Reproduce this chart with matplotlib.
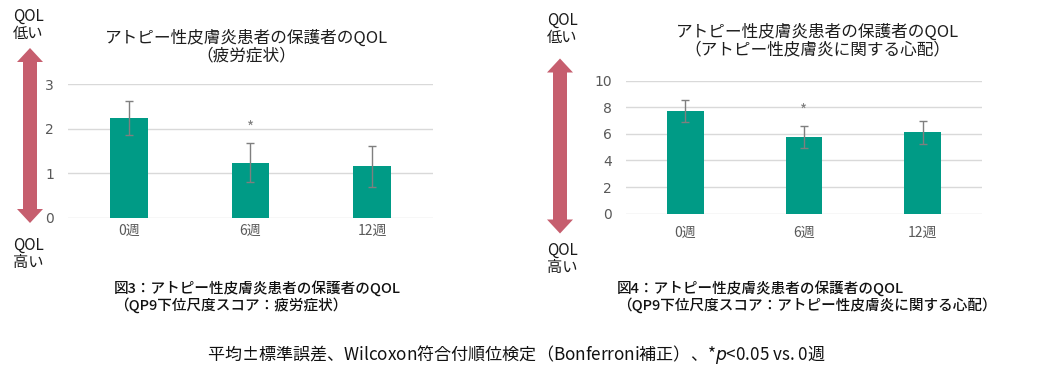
import matplotlib
matplotlib.use("Agg")
import matplotlib.pyplot as plt
from matplotlib.patches import Polygon
import numpy as np

plt.rcParams['font.family'] = ['Noto Sans CJK JP', 'DejaVu Sans']

categories = ["0週", "6週", "12週"]
fatigue_mean = [2.23, 1.24, 1.16]
fatigue_se = [0.38, 0.43, 0.46]
worry_mean = [7.72, 5.79, 6.12]
worry_se = [0.80, 0.83, 0.87]
significant = [False, True, False]
fatigue_ticks = [0, 1, 2, 3]
worry_ticks = [0, 2, 4, 6, 8, 10]

title_left = "アトピー性皮膚炎患者の保護者のQOL\n（疲労症状）"
title_right = "アトピー性皮膚炎患者の保護者のQOL\n（アトピー性皮膚炎に関する心配）"
caption_left = "図3：アトピー性皮膚炎患者の保護者のQOL\n（QP9下位尺度スコア：疲労症状）"
caption_right = "図4：アトピー性皮膚炎患者の保護者のQOL\n（QP9下位尺度スコア：アトピー性皮膚炎に関する心配）"

BAR = "#009B86"
ARROW = "#C65E6E"
GRID = "#D9D9D9"
TICK = "#595959"
W, H = 1050, 373

fig = plt.figure(figsize=(W / 100, H / 100), dpi=100)


def px_axes(x0, y0, x1, y1):
    return fig.add_axes([x0 / W, 1 - y1 / H, (x1 - x0) / W, (y1 - y0) / H])


def draw_chart(ax, means, ses, ticks, star_off, xpad):
    x = np.arange(len(categories))
    ax.bar(x, means, width=0.31, color=BAR, zorder=2)
    ax.errorbar(x, means, yerr=ses, fmt="none", ecolor="#7F7F7F",
                elinewidth=1.0, capsize=3, capthick=1.0, zorder=3)
    for xi, m, s, sig in zip(x, means, ses, significant):
        if sig:
            ax.text(xi, m + s + star_off, "*", ha="center", va="center",
                    color="#7F7F7F", fontsize=11)
    ax.set_xlim(-0.5, len(categories) - 0.5)
    ax.set_ylim(ticks[0], ticks[-1])
    ax.set_yticks(ticks)
    ax.set_xticks(x)
    ax.set_xticklabels(categories)
    for sp in ax.spines.values():
        sp.set_visible(False)
    ax.grid(axis="y", color=GRID, linewidth=1.0, zorder=0)
    ax.set_axisbelow(True)
    ax.tick_params(axis="y", length=0, pad=10, labelsize=10, labelcolor=TICK)
    ax.tick_params(axis="x", length=0, pad=xpad, labelsize=10, labelcolor=TICK)
    for lab in ax.get_yticklabels():
        lab.set_family(['DejaVu Sans'])
    ax.patch.set_alpha(0)


ax1 = px_axes(68, 84, 433, 218)
draw_chart(ax1, fatigue_mean, fatigue_se, fatigue_ticks, 0.33, 4)
ax2 = px_axes(626, 80.7, 982, 213.7)
draw_chart(ax2, worry_mean, worry_se, worry_ticks, 1.05, 9)

# overlay in pixel coordinates for annotations
ov = fig.add_axes([0, 0, 1, 1])
ov.set_xlim(0, W)
ov.set_ylim(H, 0)
ov.axis("off")
ov.patch.set_alpha(0)


def double_arrow(cx, ytop, ybot, shaft=14, head=26, hl=14):
    s, h = shaft / 2, head / 2
    pts = [(cx, ytop), (cx + h, ytop + hl), (cx + s, ytop + hl), (cx + s, ybot - hl),
           (cx + h, ybot - hl), (cx, ybot), (cx - h, ybot - hl), (cx - s, ybot - hl),
           (cx - s, ytop + hl), (cx - h, ytop + hl)]
    ov.add_patch(Polygon(pts, closed=True, color=ARROW, lw=0))


double_arrow(30, 48, 223)
double_arrow(560, 58.5, 233.5)

qkw = dict(ha="center", va="center", fontsize=11, color="#1A1A1A", linespacing=1.05)
ov.text(28, 25, "QOL\n低い", **qkw)
ov.text(28, 254, "QOL\n高い", **qkw)
ov.text(562, 29, "QOL\n低い", **qkw)
ov.text(562, 259, "QOL\n高い", **qkw)

tkw = dict(ha="center", va="center", fontsize=12, color="#1E1E1E", linespacing=1.1)
ov.text(246, 47, title_left, **tkw)
ov.text(817, 41, title_right, **tkw)

ckw = dict(ha="left", va="center", fontsize=10.5, color="#111111", linespacing=1.1,
           fontweight="medium")
ov.text(114, 297, caption_left, **ckw)
ov.text(617, 297, caption_right, **ckw)

ov.text(516, 355, "平均±標準誤差、Wilcoxon符合付順位検定（Bonferroni補正）、*$p$<0.05 vs. 0週",
        ha="center", va="center", fontsize=12.3, color="#111111")

fig.savefig("out.png", dpi=100)
